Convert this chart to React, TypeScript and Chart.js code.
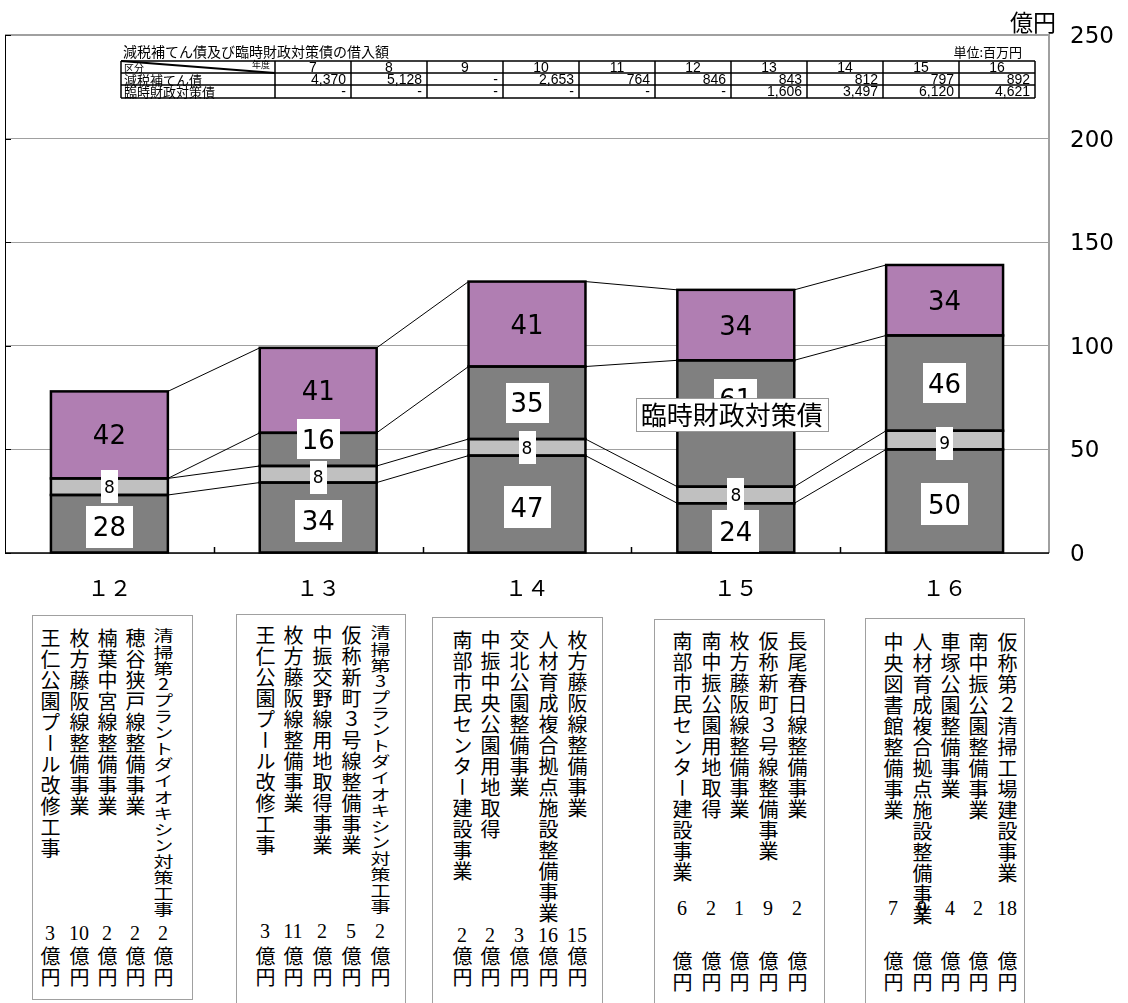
import React, { useEffect, useRef } from "react";
import { Chart, registerables } from "chart.js";

Chart.register(...registerables);

// ---- chart data ----
const categories = ["１２", "１３", "１４", "１５", "１６"];
const seriesNames = ["その他の市債", "減税補てん債", "臨時財政対策債", "大型事業"];
const otherBonds = [28, 34, 47, 24, 50];
const taxCutBonds = [8, 8, 8, 8, 9];
const tempFiscalBonds: (number | null)[] = [null, 16, 35, 61, 46];
const majorProjectBonds = [42, 41, 41, 34, 34];
const yTicks = [0, 50, 100, 150, 200, 250];
const yUnit = "億円";

// ---- table data ----
const tableTitle = "減税補てん債及び臨時財政対策債の借入額";
const tableUnit = "単位:百万円";
const tableYears = ["7", "8", "9", "10", "11", "12", "13", "14", "15", "16"];
const tableRowNames = ["減税補てん債", "臨時財政対策債"];
const tableTaxCut = ["4,370", "5,128", "-", "2,653", "764", "846", "843", "812", "797", "892"];
const tableTempFiscal = ["-", "-", "-", "-", "-", "-", "1,606", "3,497", "6,120", "4,621"];

// ---- project lists ----
const projectNames12 = ["清掃第2プラントダイオキシン対策工事", "穂谷狭戸線整備事業", "楠葉中宮線整備事業", "枚方藤阪線整備事業", "王仁公園プール改修工事"];
const projectAmounts12 = [2, 2, 2, 10, 3];
const projectNames13 = ["清掃第3プラントダイオキシン対策工事", "仮称新町３号線整備事業", "中振交野線用地取得事業", "枚方藤阪線整備事業", "王仁公園プール改修工事"];
const projectAmounts13 = [2, 5, 2, 11, 3];
const projectNames14 = ["枚方藤阪線整備事業", "人材育成複合拠点施設整備事業", "交北公園整備事業", "中振中央公園用地取得", "南部市民センター建設事業"];
const projectAmounts14 = [15, 16, 3, 2, 2];
const projectNames15 = ["長尾春日線整備事業", "仮称新町３号線整備事業", "枚方藤阪線整備事業", "南中振公園用地取得", "南部市民センター建設事業"];
const projectAmounts15 = [2, 9, 1, 2, 6];
const projectNames16 = ["仮称第２清掃工場建設事業", "南中振公園整備事業", "車塚公園整備事業", "人材育成複合拠点施設整備事業", "中央図書館整備事業"];
const projectAmounts16 = [18, 2, 4, 9, 7];

const projectNames = [projectNames12, projectNames13, projectNames14, projectNames15, projectNames16];
const projectAmounts = [projectAmounts12, projectAmounts13, projectAmounts14, projectAmounts15, projectAmounts16];

// ---- layout / style (not data) ----
const boxLayouts = [
  { left: 32, right: 193, top: 615, bottom: 1000, textTop: 628, cols: [163, 135, 107, 79, 50], numY: 933, okuY: 957 },
  { left: 236, right: 406, top: 614, bottom: 1012, textTop: 625, cols: [380, 351, 322, 293, 265], numY: 931, okuY: 957 },
  { left: 432, right: 603, top: 617, bottom: 1012, textTop: 630, cols: [577, 548, 519, 490, 462], numY: 935, okuY: 957 },
  { left: 654, right: 825, top: 619, bottom: 1012, textTop: 631, cols: [797, 768, 739, 711, 682], numY: 908, okuY: 962 },
  { left: 865, right: 1025, top: 618, bottom: 1012, textTop: 632, cols: [1007, 978, 950, 922, 893], numY: 908, okuY: 962 },
];
const longColumnLength = 290;

const labelStyles = [
  { size: 26, bg: true, boxH: 42, padX: 7, offsets: [3, 3, 3, 3, 3] },
  { size: 17, bg: true, boxH: 33, padX: 3, offsets: [0, 3, 0, 0, 3] },
  { size: 26, bg: true, boxH: 40, padX: 5, offsets: [0, -10, 0, -25, 0] },
  { size: 26, bg: false, boxH: 0, padX: 0, offsets: [0, 0, 0, 0, 0] },
];
const calloutSeries = 2;
const calloutIndex = 3;

const CJK = '"Noto Sans CJK JP", "Noto Sans CJK SC", sans-serif';

function cumulative(ds: any[], d: number, i: number) {
  let s = 0;
  for (let k = 0; k <= d; k++) s += ds[k].data[i] ?? 0;
  return s;
}

const decorPlugin = {
  id: "decor",
  afterDatasetsDraw(chart: any) {
    const { ctx, chartArea: a } = chart;
    const ys = chart.scales.y;
    const xs = chart.scales.x;
    const ds = chart.data.datasets;
    ctx.save();

    // plot frame
    ctx.strokeStyle = "#A0A0A0";
    ctx.lineWidth = 2;
    ctx.beginPath();
    ctx.moveTo(a.left, a.top);
    ctx.lineTo(a.right, a.top);
    ctx.lineTo(a.right, a.bottom);
    ctx.stroke();

    ctx.strokeStyle = "#000";
    ctx.lineWidth = 1;
    ctx.beginPath();
    ctx.moveTo(a.left + 0.5, a.top);
    ctx.lineTo(a.left + 0.5, a.bottom);
    for (const t of yTicks) {
      const py = Math.round(ys.getPixelForValue(t)) + 0.5;
      ctx.moveTo(a.left, py);
      ctx.lineTo(a.left + 6, py);
    }
    ctx.stroke();

    ctx.lineWidth = 1.5;
    ctx.beginPath();
    ctx.moveTo(a.left, a.bottom);
    ctx.lineTo(a.right, a.bottom);
    for (let i = 0; i < categories.length - 1; i++) {
      const bx = Math.round((xs.getPixelForValue(i) + xs.getPixelForValue(i + 1)) / 2) + 0.5;
      ctx.moveTo(bx, a.bottom);
      ctx.lineTo(bx, a.bottom - 6);
    }
    ctx.stroke();

    // bar outlines
    ctx.strokeStyle = "#000";
    ctx.lineWidth = 2.5;
    ds.forEach((_: any, d: number) => {
      const meta = chart.getDatasetMeta(d);
      meta.data.forEach((el: any, i: number) => {
        if (ds[d].data[i] == null) return;
        const { x, y, base, width } = el.getProps(["x", "y", "base", "width"], true);
        ctx.strokeRect(x - width / 2, Math.min(y, base), width, Math.abs(base - y));
      });
    });

    // series lines
    const meta0 = chart.getDatasetMeta(0);
    ctx.lineWidth = 1;
    ctx.beginPath();
    for (let d = 0; d < ds.length; d++) {
      for (let i = 0; i < categories.length - 1; i++) {
        const e1 = meta0.data[i].getProps(["x", "width"], true);
        const e2 = meta0.data[i + 1].getProps(["x", "width"], true);
        const y1 = ys.getPixelForValue(cumulative(ds, d, i));
        const y2 = ys.getPixelForValue(cumulative(ds, d, i + 1));
        ctx.moveTo(e1.x + e1.width / 2, y1);
        ctx.lineTo(e2.x - e2.width / 2, y2);
      }
    }
    ctx.stroke();

    // value labels
    ds.forEach((set: any, d: number) => {
      const st = labelStyles[d];
      const meta = chart.getDatasetMeta(d);
      set.data.forEach((v: number | null, i: number) => {
        if (v == null) return;
        const x = meta.data[i].getProps(["x"], true).x;
        const top = ys.getPixelForValue(cumulative(ds, d, i));
        const bot = ys.getPixelForValue(cumulative(ds, d, i) - v);
        const cy = (top + bot) / 2 + st.offsets[i];
        ctx.font = `${st.size}px "DejaVu Sans"`;
        const txt = String(v);
        const tw = ctx.measureText(txt).width;
        if (st.bg) {
          ctx.fillStyle = "#fff";
          const bw = Math.round(tw + st.padX * 2);
          ctx.fillRect(Math.round(x - bw / 2), Math.round(cy - st.boxH / 2), bw, st.boxH);
        }
        ctx.fillStyle = "#000";
        ctx.textAlign = "center";
        ctx.textBaseline = "alphabetic";
        ctx.fillText(txt, x, cy + st.size * 0.365);
      });
    });

    // series name callout
    {
      const meta = chart.getDatasetMeta(calloutSeries);
      const x = meta.data[calloutIndex].getProps(["x"], true).x;
      const v = ds[calloutSeries].data[calloutIndex];
      const top = ys.getPixelForValue(cumulative(ds, calloutSeries, calloutIndex));
      const bot = ys.getPixelForValue(cumulative(ds, calloutSeries, calloutIndex) - v);
      const cy = (top + bot) / 2 - 9;
      const cx = x - 4;
      ctx.font = `26px ${CJK}`;
      const txt = ds[calloutSeries].label;
      const tw = ctx.measureText(txt).width;
      const bw = Math.round(tw + 10);
      const bh = 33;
      const bx = Math.round(cx - bw / 2) + 0.5;
      const by = Math.round(cy - bh / 2) + 0.5;
      ctx.fillStyle = "#fff";
      ctx.fillRect(bx, by, bw, bh);
      ctx.strokeStyle = "#999";
      ctx.lineWidth = 1;
      ctx.strokeRect(bx, by, bw, bh);
      ctx.fillStyle = "#000";
      ctx.textAlign = "center";
      ctx.textBaseline = "middle";
      ctx.fillText(txt, cx, cy + 1);
    }
    ctx.restore();
  },
  afterDraw(chart: any) {
    const { ctx } = chart;
    ctx.save();
    // unit label
    ctx.font = `23px ${CJK}`;
    ctx.fillStyle = "#000";
    ctx.textAlign = "left";
    ctx.textBaseline = "middle";
    ctx.fillText(yUnit, 1010, 22);

    // table
    const left = 121;
    const firstW = 154;
    const colW = 76;
    const rows = [61, 73, 85, 98];
    const right = left + firstW + colW * tableYears.length;
    ctx.font = `14px ${CJK}`;
    ctx.fillText(tableTitle, 123, 52);
    ctx.font = `13px ${CJK}`;
    ctx.textAlign = "right";
    ctx.fillText(tableUnit, 1022, 52);

    ctx.fillStyle = "#fff";
    ctx.fillRect(left, rows[0], right - left, rows[3] - rows[0]);
    ctx.strokeStyle = "#000";
    ctx.lineWidth = 1.5;
    ctx.beginPath();
    for (const ry of rows) {
      ctx.moveTo(left, ry);
      ctx.lineTo(right, ry);
    }
    const colXs = [left, left + firstW];
    for (let c = 1; c <= tableYears.length; c++) colXs.push(left + firstW + colW * c);
    for (const cx of colXs) {
      ctx.moveTo(cx, rows[0]);
      ctx.lineTo(cx, rows[3]);
    }
    ctx.stroke();
    ctx.lineWidth = 2;
    ctx.beginPath();
    ctx.moveTo(left, rows[0]);
    ctx.lineTo(left + firstW, rows[1]);
    ctx.stroke();

    ctx.fillStyle = "#000";
    ctx.textBaseline = "middle";
    ctx.font = `10px ${CJK}`;
    ctx.textAlign = "left";
    ctx.fillText("区分", left + 3, 68.5);
    ctx.font = `9px ${CJK}`;
    ctx.textAlign = "right";
    ctx.fillText("年度", left + firstW - 5, 65);

    ctx.font = `14px "Liberation Sans"`;
    tableYears.forEach((yr, c) => {
      ctx.textAlign = "center";
      ctx.fillText(yr, left + firstW + colW * c + colW / 2, (rows[0] + rows[1]) / 2 + 1);
    });
    const rowVals = [tableTaxCut, tableTempFiscal];
    rowVals.forEach((vals, r) => {
      const my = (rows[r + 1] + rows[r + 2]) / 2 + 1;
      ctx.font = `13px ${CJK}`;
      ctx.textAlign = "left";
      ctx.fillText(tableRowNames[r], left + 3, my);
      ctx.font = `14px "Liberation Sans"`;
      ctx.textAlign = "right";
      vals.forEach((v, c) => {
        ctx.fillText(v, left + firstW + colW * (c + 1) - 5, my);
      });
    });
    ctx.restore();
  },
};

export default function App() {
  const canvasRef = useRef<HTMLCanvasElement | null>(null);

  useEffect(() => {
    const canvas = canvasRef.current;
    if (!canvas) return;
    const colors = ["#808080", "#C0C0C0", "#808080", "#B07EB2"];
    const series = [otherBonds, taxCutBonds, tempFiscalBonds, majorProjectBonds];
    const chart = new Chart(canvas, {
      type: "bar",
      data: {
        labels: categories,
        datasets: series.map((data, k) => ({
          label: seriesNames[k],
          data: data as any,
          backgroundColor: colors[k],
          borderWidth: 0,
          barPercentage: 1,
          categoryPercentage: 0.56,
          stack: "s",
        })),
      },
      options: {
        animation: false,
        responsive: false,
        maintainAspectRatio: false,
        devicePixelRatio: 1,
        layout: { padding: { left: 5, top: 35, right: 0, bottom: 0 } },
        plugins: {
          legend: { display: false },
          tooltip: { enabled: false },
          title: { display: false },
        },
        scales: {
          x: {
            stacked: true,
            grid: { display: false, drawTicks: false },
            border: { display: false },
            ticks: {
              font: { family: "Noto Sans CJK JP", size: 22 },
              color: "#000",
              padding: 21,
              maxRotation: 0,
            },
            afterFit: (s: any) => {
              s.height = 57;
            },
          },
          y: {
            stacked: true,
            position: "right",
            min: 0,
            max: 250,
            grid: { color: "#A0A0A0", drawTicks: false },
            border: { display: false },
            ticks: {
              font: { family: "DejaVu Sans", size: 23 },
              color: "#000",
              padding: 21,
              labelOffset: 2,
            },
            afterBuildTicks: (s: any) => {
              s.ticks = yTicks.map((v) => ({ value: v }));
            },
            afterFit: (s: any) => {
              s.width = 79;
            },
          },
        },
      } as any,
      plugins: [decorPlugin],
    });
    return () => chart.destroy();
  }, []);

  const columnStyle = (cx: number, top: number): React.CSSProperties => ({
    position: "absolute",
    left: cx - 12,
    top,
    width: 24,
    writingMode: "vertical-rl",
    textOrientation: "upright",
    fontFamily: CJK,
    fontSize: 20,
    lineHeight: "24px",
    letterSpacing: "1px",
    whiteSpace: "nowrap",
    color: "#000",
  });

  return (
    <div style={{ position: "absolute", left: 0, top: 0, width: 1128, height: 1003, overflow: "hidden", background: "#fff" }}>
      <canvas ref={canvasRef} width={1128} height={610} style={{ position: "absolute", left: 0, top: 0, width: 1128, height: 610 }} />
      {boxLayouts.map((b, bi) => (
        <React.Fragment key={bi}>
          <div
            style={{
              position: "absolute",
              left: b.left,
              top: b.top,
              width: b.right - b.left,
              height: b.bottom - b.top,
              border: "1px solid #A0A0A0",
              boxSizing: "border-box",
            }}
          />
          {projectNames[bi].map((name, ci) => {
            const cx = b.cols[ci];
            const long = name.length > 15;
            const style = columnStyle(cx, b.textTop);
            if (long) {
              style.transform = `scaleY(${(longColumnLength / (name.length * 21)).toFixed(3)})`;
              style.transformOrigin = "top center";
            }
            return (
              <React.Fragment key={ci}>
                <div style={style}>{name}</div>
                <div
                  style={{
                    position: "absolute",
                    left: cx - 20,
                    top: b.numY - 11,
                    width: 40,
                    textAlign: "center",
                    fontFamily: '"Liberation Serif", serif',
                    fontSize: 20,
                    lineHeight: "22px",
                    color: "#000",
                  }}
                >
                  {projectAmounts[bi][ci]}
                </div>
                <div style={columnStyle(cx, b.okuY - 11)}>億円</div>
              </React.Fragment>
            );
          })}
        </React.Fragment>
      ))}
    </div>
  );
}
